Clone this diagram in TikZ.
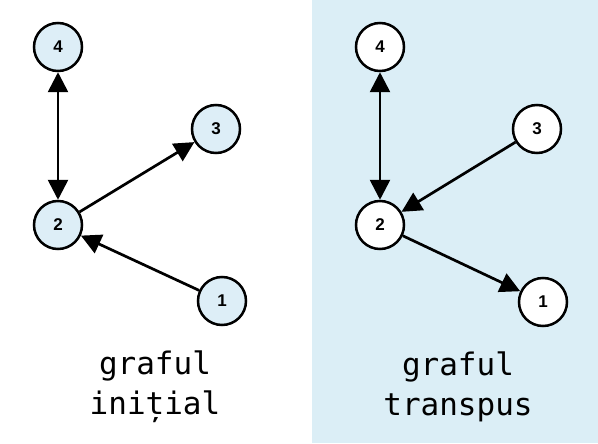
\documentclass[tikz,border=0pt]{standalone}
\usepackage{fontspec}
\setmainfont{Liberation Sans}
\newfontfamily\labelmono{DejaVu Sans Mono}
\usetikzlibrary{arrows.meta}
\definecolor{panelblue}{HTML}{DBEEF6}
\definecolor{nodeblue}{HTML}{DDEEF7}
\tikzset{
  vertex/.style={circle, draw=black, line width=2.5pt, minimum size=48pt, inner sep=0pt,
                 font=\bfseries\fontsize{17}{20}\selectfont},
  initnode/.style={vertex, fill=nodeblue},
  transnode/.style={vertex, fill=white},
  edge/.style={line width=2.7pt, -{Triangle[length=20pt,width=20pt]}},
  biedge/.style={line width=2.7pt, {Triangle[length=20pt,width=20pt]}-{Triangle[length=20pt,width=20pt]}},
  caption/.style={font=\labelmono\fontsize{31}{40}\selectfont, align=center}
}
\begin{document}
\begin{tikzpicture}[x=1pt,y=-1pt]
  \useasboundingbox (0,0) rectangle (598,444);
  % shaded panel behind the transposed graph
  \fill[panelblue] (312,0) rectangle (598,443);

  % original graph
  \node[initnode] (a4) at (58,47) {4};
  \node[initnode] (a3) at (216,129) {3};
  \node[initnode] (a2) at (58,225) {2};
  \node[initnode] (a1) at (222,301) {1};
  \draw[biedge] (a2) -- (a4);
  \draw[edge] (a2) -- (a3);
  \draw[edge] (a1) -- (a2);
  \node[caption] (capa) at (155,387) {graful\\ini\char"021B ial};

  % transposed graph
  \node[transnode] (b4) at (380,47) {4};
  \node[transnode] (b3) at (537,129) {3};
  \node[transnode] (b2) at (380,225) {2};
  \node[transnode] (b1) at (543,302) {1};
  \draw[biedge] (b2) -- (b4);
  \draw[edge] (b3) -- (b2);
  \draw[edge] (b2) -- (b1);
  \node[caption] (capb) at (458,387) {graful\\transpus};
\end{tikzpicture}
\end{document}
